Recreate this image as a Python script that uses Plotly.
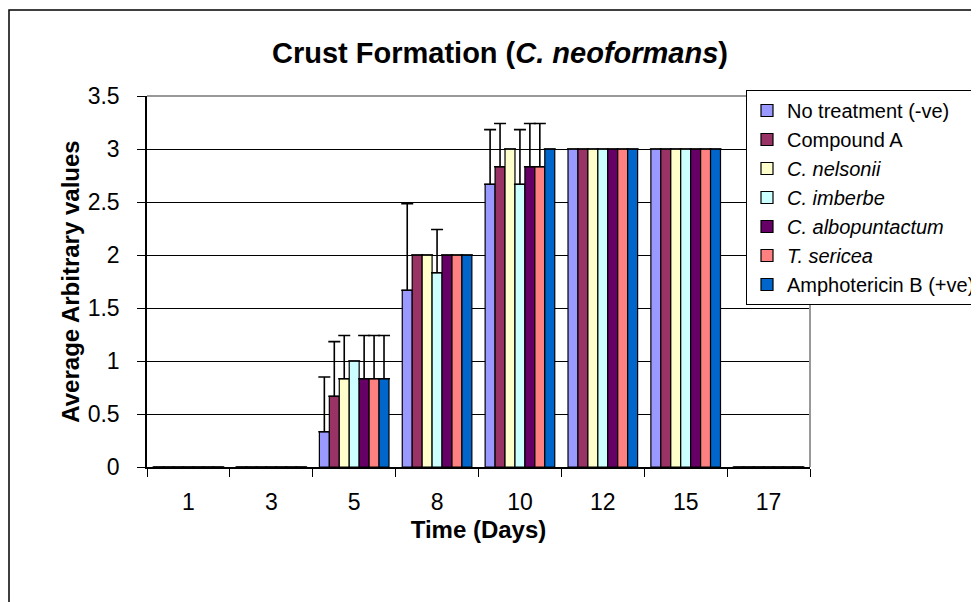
import plotly.graph_objects as go

days = ["1", "3", "5", "8", "10", "12", "15", "17"]

series_names = [
    "No treatment (-ve)",
    "Compound A",
    "<i>C. nelsonii</i>",
    "<i>C. imberbe</i>",
    "<i>C. albopuntactum</i>",
    "<i>T. sericea</i>",
    "Amphotericin B (+ve)",
]
colors = ["#9999FF", "#993366", "#FFFFCC", "#CCFFFF", "#660066", "#FF8080", "#0066CC"]

no_treatment = [0, 0, 0.333, 1.667, 2.667, 3, 3, 0]
compound_a = [0, 0, 0.667, 2.0, 2.833, 3, 3, 0]
c_nelsonii = [0, 0, 0.833, 2.0, 3.0, 3, 3, 0]
c_imberbe = [0, 0, 1.0, 1.833, 2.667, 3, 3, 0]
c_albopuntactum = [0, 0, 0.833, 2.0, 2.833, 3, 3, 0]
t_sericea = [0, 0, 0.833, 2.0, 2.833, 3, 3, 0]
amphotericin_b = [0, 0, 0.833, 2.0, 3.0, 3, 3, 0]

err_no_treatment = [0, 0, 0.516, 0.816, 0.516, 0, 0, 0]
err_compound_a = [0, 0, 0.516, 0, 0.408, 0, 0, 0]
err_c_nelsonii = [0, 0, 0.408, 0, 0, 0, 0, 0]
err_c_imberbe = [0, 0, 0, 0.408, 0.516, 0, 0, 0]
err_c_albopuntactum = [0, 0, 0.408, 0, 0.408, 0, 0, 0]
err_t_sericea = [0, 0, 0.408, 0, 0.408, 0, 0, 0]
err_amphotericin_b = [0, 0, 0.408, 0, 0, 0, 0, 0]

values = [no_treatment, compound_a, c_nelsonii, c_imberbe, c_albopuntactum, t_sericea, amphotericin_b]
errors = [err_no_treatment, err_compound_a, err_c_nelsonii, err_c_imberbe,
          err_c_albopuntactum, err_t_sericea, err_amphotericin_b]

FONT = "Liberation Sans, Arial, sans-serif"

fig = go.Figure()
for name, col, vals, errs in zip(series_names, colors, values, errors):
    fig.add_trace(go.Bar(
        x=days, y=vals, name=name,
        marker=dict(color=col, line=dict(color="black", width=1.2)),
        error_y=dict(type="data", array=errs, arrayminus=[0] * len(errs), symmetric=False,
                     color="black", thickness=1.6, width=6),
    ))

# page has an 8px body margin; figure origin is at page (8, 8)
OFF = 8
W, H = 979 - OFF, 602 - OFF
PL, PR, PT, PB = 147, 810, 96, 467          # plot area in page pixels
L, T = PL - OFF, PT - OFF
pw, ph = PR - PL, PB - PT
R, B = W - L - pw, H - T - ph

def px(x):
    return (x - PL) / pw

def py(y):
    return (PB - y) / ph

fig.update_layout(
    width=W, height=H,
    margin=dict(l=L, r=R, t=T, b=B, autoexpand=False),
    paper_bgcolor="white", plot_bgcolor="white",
    barmode="group", bargap=0.16, bargroupgap=0,
    font=dict(family=FONT, color="black", size=23),
    title=dict(text="<b>Crust Formation (<i>C. neoformans</i>)</b>",
               font=dict(size=29, family=FONT, color="black"),
               xref="container", x=(500 - OFF) / W, xanchor="center",
               yref="container", y=1 - (53 - OFF) / H, yanchor="middle"),
    legend=dict(x=px(746), y=py(90), xanchor="left", yanchor="top",
                bgcolor="white", bordercolor="black", borderwidth=1,
                font=dict(size=20, family=FONT, color="black"),
                tracegroupgap=0, itemwidth=30),
    xaxis=dict(type="category", showline=True, linecolor="black", linewidth=1.5,
               ticks="outside", tickson="boundaries", ticklen=8, tickcolor="black",
               tickfont=dict(size=23), ticklabelstandoff=14,
               title=dict(text="<b>Time (Days)</b>", font=dict(size=24), standoff=7),
               showgrid=False),
    yaxis=dict(range=[0, 3.5], dtick=0.5, showline=True, linecolor="black", linewidth=1.5,
               ticks="outside", ticklen=8, tickcolor="black", tickfont=dict(size=23),
               ticklabelstandoff=13,
               showgrid=True, gridcolor="black", gridwidth=1,
               title=dict(text="<b>Average Arbitrary values</b>", font=dict(size=24), standoff=1),
               zeroline=False),
    shapes=[
        dict(type="line", xref="paper", yref="paper", x0=0, x1=1, y0=1, y1=1,
             line=dict(color="#999999", width=2), layer="above"),
        dict(type="line", xref="paper", yref="paper", x0=1, x1=1, y0=0, y1=1,
             line=dict(color="#999999", width=2), layer="above"),
        dict(type="rect", xref="paper", yref="paper", x0=px(9), x1=px(1010),
             y0=py(640), y1=py(10), line=dict(color="black", width=1.5),
             fillcolor="rgba(0,0,0,0)", layer="below"),
    ],
)

fig.write_html("out.html")
